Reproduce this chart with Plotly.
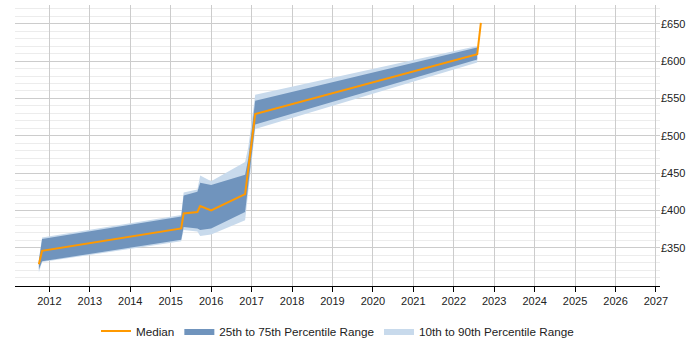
import plotly.graph_objects as go

# Data (x in decimal years, values in £)
years = [2011.74, 2011.82, 2015.26, 2015.32, 2015.66, 2015.73, 2016.0, 2016.84, 2017.09, 2022.58, 2022.67]
median = [328, 346, 376, 396, 398, 406, 400, 422, 529, 609, 651]

band_years = [2011.74, 2011.82, 2015.26, 2015.32, 2015.66, 2015.73, 2016.0, 2016.84, 2016.92, 2017.09, 2022.58]
p25 = [321, 332, 361, 378, 376, 374, 376, 398, 440, 515, 602]
p75 = [333, 362, 392, 420, 425, 437, 434, 448, 470, 547, 618]
p10 = [317, 331, 359, 374, 372, 366, 368, 387, 430, 509, 598]
p90 = [335, 364, 394, 424, 428, 447, 439, 465, 485, 555, 620]

tick_years = list(range(2012, 2028))
y_ticks = [350, 400, 450, 500, 550, 600, 650]
y_labels = ["£350", "£400", "£450", "£500", "£550", "£600", "£650"]

fig = go.Figure()

fig.add_trace(go.Scatter(
    x=band_years + band_years[::-1], y=p90 + p10[::-1],
    fill="toself", fillcolor="rgb(200,218,236)", line=dict(width=0),
    mode="lines", name="10th to 90th Percentile Range", legendrank=3,
    hoverinfo="skip"))
fig.add_trace(go.Scatter(
    x=band_years + band_years[::-1], y=p75 + p25[::-1],
    fill="toself", fillcolor="rgb(112,148,189)", line=dict(width=0),
    mode="lines", name="25th to 75th Percentile Range", legendrank=2,
    hoverinfo="skip"))
fig.add_trace(go.Scatter(
    x=years, y=median, mode="lines", line=dict(color="#ff9900", width=2),
    name="Median", legendrank=1))

fig.update_layout(
    width=700, height=350,
    margin=dict(l=15, r=40, t=5, b=58),
    paper_bgcolor="white", plot_bgcolor="white",
    font=dict(family="Liberation Sans, Arial, sans-serif", size=11, color="#222"),
    showlegend=True,
    legend=dict(orientation="h", x=0.5, xanchor="center", y=-0.16, yanchor="middle",
                font=dict(size=11.7, color="#222"), itemwidth=30),
    xaxis=dict(range=[2011.15, 2027.1], tickvals=tick_years, ticktext=[str(t) for t in tick_years],
               showgrid=True, gridcolor="#cccccc", gridwidth=1,
               showline=True, linecolor="#000", linewidth=1,
               ticks="outside", ticklen=5, tickcolor="#000", zeroline=False),
    yaxis=dict(range=[299, 675], side="right", tickvals=y_ticks, ticktext=y_labels,
               showgrid=True, gridcolor="#cccccc", gridwidth=1,
               minor=dict(dtick=10, showgrid=True, gridcolor="#ececec", gridwidth=1),
               showline=False, ticks="", zeroline=False),
)

fig.write_html("out.html")
